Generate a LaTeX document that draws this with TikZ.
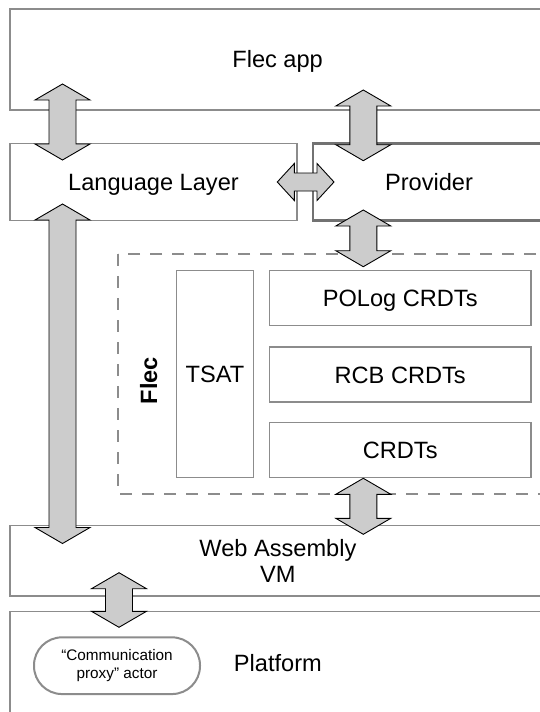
\documentclass[tikz,border=0pt]{standalone}
\usepackage{fontspec}
\setmainfont{Liberation Sans}
\usetikzlibrary{calc}

\definecolor{boxgray}{HTML}{8C8C8C}
\definecolor{provgray}{HTML}{727272}
\definecolor{arrowgray}{HTML}{CCCCCC}

\newcommand{\lbl}{\fontsize{23.6}{26.7}\selectfont}
\newcommand{\smalllbl}{\fontsize{15.3}{18.5}\selectfont}

% from, to, head length, shaft half width, head half width
\newcommand{\blockarrow}[5]{%
  \filldraw[blockarrow] (#1)
    -- ($(#1)!#3!(#2)!#5!90:(#2)$)
    -- ($(#1)!#3!(#2)!#4!90:(#2)$)
    -- ($(#2)!#3!(#1)!#4!-90:(#1)$)
    -- ($(#2)!#3!(#1)!#5!-90:(#1)$)
    -- (#2)
    -- ($(#2)!#3!(#1)!#5!90:(#1)$)
    -- ($(#2)!#3!(#1)!#4!90:(#1)$)
    -- ($(#1)!#3!(#2)!#4!-90:(#2)$)
    -- ($(#1)!#3!(#2)!#5!-90:(#2)$)
    -- cycle;}

\begin{document}
\begin{tikzpicture}[x=1pt,y=-1pt,
  box/.style={draw=boxgray,line width=1.2pt},
  provbox/.style={draw=provgray,line width=2.4pt},
  flecbox/.style={draw=boxgray,line width=2.4pt,dash pattern=on 12pt off 10pt},
  actor/.style={draw=boxgray,line width=2pt,rounded corners=28pt,
    minimum width=166pt,minimum height=56.7pt,align=center,font=\smalllbl},
  blockarrow/.style={draw=black,fill=arrowgray,line width=0.9pt,line join=miter},
  every node/.style={inner sep=0pt,font=\lbl}]
  \useasboundingbox (0,0) rectangle (540,712);
  \clip (0,0) rectangle (540,712);
  \fill[white] (0,0) rectangle (540,712);
  \draw[box] (10,9) rectangle (545,110);
  \draw[box] (10,143.5) rectangle (297,220.5);
  \draw[provbox] (313,143.5) rectangle (560,220.5);
  \draw[flecbox] (118,254) rectangle (560,494);
  \draw[box] (176.5,270.7) rectangle (253.5,477.5);
  \draw[box] (269.5,270.7) rectangle (531,325.5);
  \draw[box] (269.5,347) rectangle (531,402);
  \draw[box] (269.5,422.7) rectangle (531,477.5);
  \draw[box] (10,525.7) rectangle (545,596);
  \draw[box] (10,611.7) rectangle (545,730);
  \node[anchor=base] (app) at (277.6,67.5) {Flec app};
  \node[anchor=base] (lang) at (153.5,190) {Language Layer};
  \node[anchor=base] (prov) at (429,190) {Provider};
  \node[anchor=base,rotate=90,font=\lbl\bfseries] (flec) at (157,380.5) {Flec};
  \node[anchor=base] (tsat) at (215,382.5) {TSAT};
  \node[anchor=base] (polog) at (400.2,306.7) {POLog CRDTs};
  \node[anchor=base] (rcb) at (400.2,383) {RCB CRDTs};
  \node[anchor=base] (crdts) at (400.2,458.5) {CRDTs};
  \node[align=center] (wasm) at (277.9,560.8) {Web Assembly\\VM};
  \node[anchor=base] (platform) at (277.9,671) {Platform};
  \node[actor] (proxy) at (117,665.7) {“Communication\\proxy” actor};
  \coordinate (appL) at (62.5,84);
  \coordinate (langA) at (62.5,160);
  \coordinate (appP) at (363.3,90);
  \coordinate (provA) at (363.3,160.7);
  \coordinate (langP) at (277.3,182);
  \coordinate (provL) at (334,182);
  \coordinate (provF) at (363.3,210);
  \coordinate (flecP) at (363.3,266.7);
  \coordinate (langW) at (62.5,204);
  \coordinate (wasmL) at (62.5,543.5);
  \coordinate (flecW) at (363.3,478.3);
  \coordinate (wasmF) at (363.3,534.3);
  \coordinate (wasmP) at (119,572.7);
  \coordinate (platW) at (119,627.3);
  \blockarrow{appL}{langA}{16pt}{13.5pt}{27.5pt}
  \blockarrow{appP}{provA}{16pt}{13.5pt}{27.5pt}
  \blockarrow{langP}{provL}{17pt}{9pt}{18.5pt}
  \blockarrow{provF}{flecP}{16pt}{13.5pt}{27.5pt}
  \blockarrow{langW}{wasmL}{16pt}{13.5pt}{27.5pt}
  \blockarrow{flecW}{wasmF}{16pt}{13.5pt}{27.5pt}
  \blockarrow{wasmP}{platW}{16pt}{13.5pt}{27.5pt}
\end{tikzpicture}
\end{document}
